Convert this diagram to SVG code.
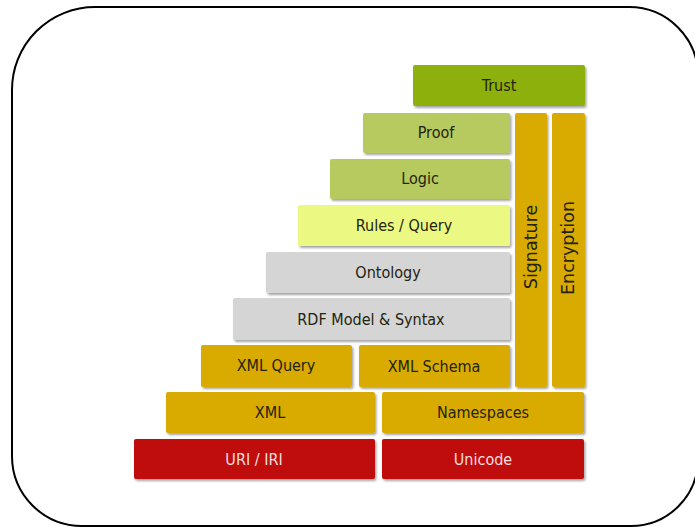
<svg xmlns="http://www.w3.org/2000/svg" width="695" height="527" viewBox="0 0 695 527">
  <defs>
    <filter id="shadow" x="-5%" y="-10%" width="115%" height="140%">
      <feDropShadow dx="1.5" dy="2" stdDeviation="1" flood-color="#000" flood-opacity="0.35"/>
    </filter>
  </defs>
  <style>
    .blk { filter: url(#shadow); }
    .trust { fill: #8eb00e; }
    .green { fill: #b6ca60; }
    .lime { fill: #ebf983; }
    .grey { fill: #d5d5d5; }
    .gold { fill: #d9aa00; }
    .red { fill: #bf0808; }
    text { font-family: "DejaVu Sans Condensed", "DejaVu Sans", sans-serif; font-size: 16px; fill: #24230e; text-anchor: middle; }
    text.light { fill: #f6dede; }
    text.vert { font-family: "DejaVu Sans", sans-serif; font-size: 17.5px; }
  </style>
  <rect width="695" height="527" fill="#fff"/>
  <!-- rounded frame -->
  <path d="M12,90 A83,83 0 0 1 95,7 L629,7 A69,69 0 0 1 698,76 L698,460 A67,67 0 0 1 631,526 L82,526 A70,70 0 0 1 12,456 Z" fill="none" stroke="#000" stroke-width="2"/>

  <g id="trust"><rect class="blk trust" x="413" y="65" width="172" height="41" rx="2"/><text x="499" y="91">Trust</text></g>
  <g id="proof"><rect class="blk green" x="363" y="113" width="147" height="40" rx="2"/><text x="436" y="138">Proof</text></g>
  <g id="logic"><rect class="blk green" x="330" y="159" width="180" height="40" rx="2"/><text x="420" y="184">Logic</text></g>
  <g id="rules"><rect class="blk lime" x="298" y="205" width="212" height="41" rx="2"/><text x="404" y="231">Rules / Query</text></g>
  <g id="ontology"><rect class="blk grey" x="266" y="252" width="244" height="41" rx="2"/><text x="388" y="278">Ontology</text></g>
  <g id="rdf"><rect class="blk grey" x="233" y="298" width="277" height="42" rx="2"/><text x="371" y="325">RDF Model &amp; Syntax</text></g>
  <g id="xmlquery"><rect class="blk gold" x="201" y="345" width="151" height="42" rx="2"/><text x="276" y="371">XML Query</text></g>
  <g id="xmlschema"><rect class="blk gold" x="359" y="345" width="151" height="42" rx="2"/><text x="434" y="372">XML Schema</text></g>
  <g id="xml"><rect class="blk gold" x="166" y="392" width="209" height="41" rx="2"/><text x="270" y="418">XML</text></g>
  <g id="namespaces"><rect class="blk gold" x="382" y="392" width="202" height="41" rx="2"/><text x="483" y="418">Namespaces</text></g>
  <g id="uri"><rect class="blk red" x="134" y="439" width="241" height="40" rx="2"/><text class="light" x="254" y="465">URI / IRI</text></g>
  <g id="unicode"><rect class="blk red" x="382" y="439" width="202" height="40" rx="2"/><text class="light" x="483" y="465">Unicode</text></g>
  <g id="signature"><rect class="blk gold" x="515" y="113" width="32" height="274" rx="2"/><text class="vert" transform="translate(537,247) rotate(-90)">Signature</text></g>
  <g id="encryption"><rect class="blk gold" x="552" y="113" width="33" height="274" rx="2"/><text class="vert" transform="translate(574,248) rotate(-90)">Encryption</text></g>
  <g id="connectors"></g>
</svg>
